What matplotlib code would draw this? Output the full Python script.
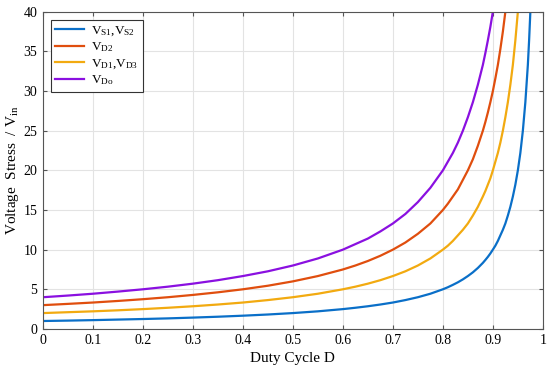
import matplotlib
matplotlib.use("Agg")
import matplotlib.pyplot as plt

# duty cycle samples and voltage stress
duty = [0, 0.05, 0.1, 0.15, 0.2, 0.25, 0.3, 0.35, 0.4, 0.45, 0.5, 0.55, 0.6,
        0.625, 0.65, 0.675, 0.7, 0.725, 0.75, 0.775, 0.8, 0.81, 0.82, 0.83,
        0.84, 0.85, 0.86, 0.87, 0.88, 0.885, 0.89, 0.895, 0.9, 0.905, 0.91,
        0.915, 0.92, 0.925, 0.93, 0.935, 0.94, 0.945, 0.95, 0.955, 0.96,
        0.965, 0.97, 0.9725, 0.975, 0.98]
v_s = [1.00, 1.05, 1.11, 1.18, 1.25, 1.33, 1.43, 1.54, 1.67, 1.82, 2.00, 2.22,
       2.50, 2.67, 2.86, 3.08, 3.33, 3.64, 4.00, 4.44, 5.00, 5.26, 5.56, 5.88,
       6.25, 6.67, 7.14, 7.69, 8.33, 8.70, 9.09, 9.52, 10.0, 10.5, 11.1,
       11.8, 12.5, 13.3, 14.3, 15.4, 16.7, 18.2, 20.0, 22.2, 25.0,
       28.6, 33.3, 36.4, 40.0, 50.0]
v_d2 = [3.00, 3.16, 3.33, 3.53, 3.75, 4.00, 4.29, 4.62, 5.00, 5.45, 6.00, 6.67,
        7.50, 8.00, 8.57, 9.23, 10.0, 10.9, 12.0, 13.3, 15.0, 15.8, 16.7, 17.6,
        18.8, 20.0, 21.4, 23.1, 25.0, 26.1, 27.3, 28.6, 30.0, 31.6, 33.3,
        35.3, 37.5, 40.0, 42.9, 46.2, 50.0, 54.5, 60.0, 66.7, 75.0,
        85.7, 100.0, 109.0, 120.0, 150.0]
v_d1 = [2.00, 2.11, 2.22, 2.35, 2.50, 2.67, 2.86, 3.08, 3.33, 3.64, 4.00, 4.44,
        5.00, 5.33, 5.71, 6.15, 6.67, 7.27, 8.00, 8.89, 10.0, 10.5, 11.1, 11.8,
        12.5, 13.3, 14.3, 15.4, 16.7, 17.4, 18.2, 19.0, 20.0, 21.1, 22.2,
        23.5, 25.0, 26.7, 28.6, 30.8, 33.3, 36.4, 40.0, 44.4, 50.0,
        57.1, 66.7, 72.7, 80.0, 100.0]
v_do = [4.00, 4.21, 4.44, 4.71, 5.00, 5.33, 5.71, 6.15, 6.67, 7.27, 8.00, 8.89,
        10.0, 10.7, 11.4, 12.3, 13.3, 14.5, 16.0, 17.8, 20.0, 21.1, 22.2, 23.5,
        25.0, 26.7, 28.6, 30.8, 33.3, 34.8, 36.4, 38.1, 40.0, 42.1, 44.4,
        47.1, 50.0, 53.3, 57.1, 61.5, 66.7, 72.7, 80.0, 88.9, 100.0,
        114.0, 133.3, 145.0, 160.0, 200.0]

plt.rcParams["font.family"] = "Liberation Serif"
plt.rcParams["mathtext.fontset"] = "custom"
plt.rcParams["mathtext.rm"] = "Liberation Serif"
plt.rcParams["mathtext.it"] = "Liberation Serif:italic"

fig = plt.figure(figsize=(5.5, 3.7), dpi=100)
ax = fig.add_axes([0.078, 0.111, 0.909, 0.857])

lw = 1.6
ax.plot(duty, v_s, color="#0A6FC8", lw=lw, label=r"V$_{\mathrm{S1}}$,V$_{\mathrm{S2}}$")
ax.plot(duty, v_d2, color="#E04E0E", lw=lw, label=r"V$_{\mathrm{D2}}$")
ax.plot(duty, v_d1, color="#F2AA10", lw=lw, label=r"V$_{\mathrm{D1}}$,V$_{\mathrm{D3}}$")
ax.plot(duty, v_do, color="#8A10E0", lw=lw, label=r"V$_{\mathrm{Do}}$")

ax.set_xlim(0, 1)
ax.set_ylim(0, 40)
ax.set_xticks([i / 10 for i in range(11)])
ax.set_xticklabels(["0", "0.1", "0.2", "0.3", "0.4", "0.5", "0.6", "0.7", "0.8", "0.9", "1"])
ax.set_yticks(range(0, 41, 5))
ax.grid(True, color="#E3E3E3", lw=0.8)
ax.set_axisbelow(True)
ax.tick_params(direction="in", top=True, right=True, labelsize=10, length=3,
               color="#555555", pad=4)
for s in ax.spines.values():
    s.set_color("#555555")
    s.set_linewidth(0.8)

ax.set_xlabel("Duty Cycle D", fontsize=11, labelpad=3)
ax.set_ylabel(r"Voltage  Stress  / V$_{\mathrm{in}}$", fontsize=11, labelpad=2)

leg = ax.legend(loc="upper left", fontsize=9.5, fancybox=False, framealpha=1,
                edgecolor="#333333", handlelength=2.2, borderaxespad=0.6,
                labelspacing=0.2, handletextpad=0.5, borderpad=0.35)
leg.get_frame().set_linewidth(0.8)

fig.savefig("out.png", dpi=100)
